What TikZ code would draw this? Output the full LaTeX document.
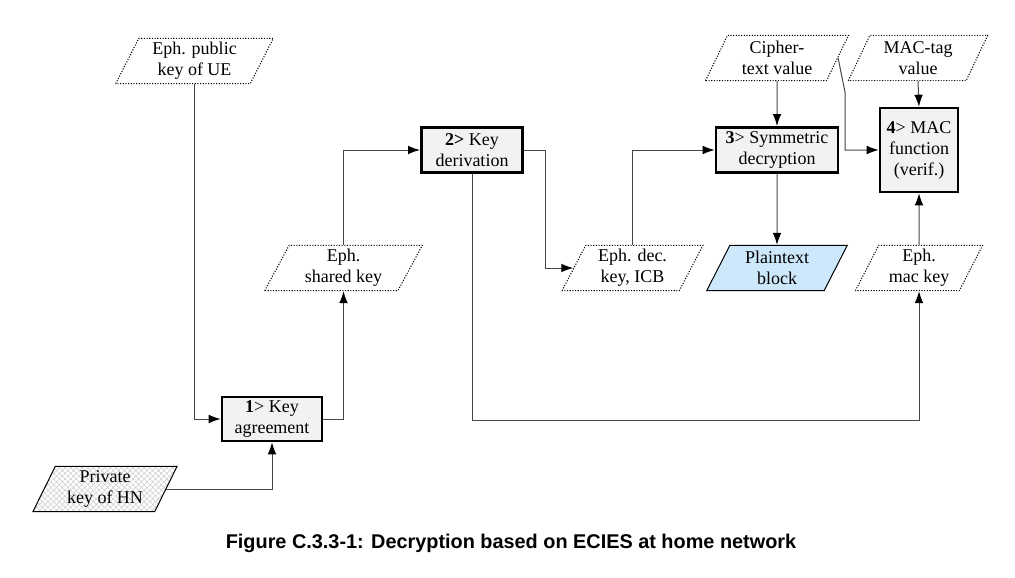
\documentclass[tikz,border=0pt]{standalone}
\usepackage{fontspec}
\setmainfont{Liberation Serif}
\newfontfamily\capfont{Liberation Sans}
\usetikzlibrary{shapes.geometric, arrows.meta, patterns.meta}
\definecolor{mylinegrey}{RGB}{70, 70, 70}
\definecolor{myboxfill}{RGB}{242, 242, 242}
\definecolor{myplainblue}{RGB}{204, 232, 250}

\begin{document}
\begin{tikzpicture}[x = 0.75pt, y = -0.75pt, > = {Latex[length = 9pt, width = 6.5pt, color = black]},
  font = \fontsize{13.5}{15.75}\selectfont,
  process/.style = {draw, line width = 2pt, fill = myboxfill, align = center, inner sep = 0pt},
  datum/.style = {trapezium, trapezium left angle = 65, trapezium right angle = 115, trapezium stretches = true, draw, line width = 0.8pt, dash pattern = on 0.8pt off 1.2pt, align = center, inner sep = 0pt, minimum height = 34pt},
  link/.style = {mylinegrey, line width = 0.75pt}]
  \useasboundingbox (0,0) rectangle (1015,578);

  % nodes
  \node [datum, minimum width = 119pt] (ue-key) at (194.5,61) {Eph. public\\key of UE};
  \node [datum, solid, line width = 0.75pt, minimum width = 109pt, pattern = {Hatch[angle = 45, distance = 3pt, line width = 0.4pt]}, pattern color = gray!40] (hn-key) at (105,489) {Private\\key of HN};
  \node [process, minimum width = 75pt, minimum height = 33pt] (key-agree) at (272,419) {\textbf{1}> Key\\agreement};
  \node [datum, minimum width = 119pt] (shared-key) at (343.5,268) {Eph.\\shared key};
  \node [process, minimum width = 76pt, minimum height = 34pt] (key-deriv) at (472,150) {\textbf{2>} Key\\derivation};
  \node [datum, minimum width = 106pt] (dec-key) at (632.5,268) {Eph. dec.\\key, ICB};
  \node [datum, minimum width = 108pt] (cipher) at (777,58) {Cipher-\\text value};
  \node [process, minimum width = 91.5pt, minimum height = 34pt] (sym-dec) at (777,150) {\textbf{3}> Symmetric\\decryption};
  \node [datum, solid, line width = 0.75pt, minimum width = 106pt, fill = myplainblue] (plain) at (777,268) {Plaintext\\block};
  \node [datum, minimum width = 105pt] (mac-tag) at (918,58) {MAC-tag\\value};
  \node [process, minimum width = 58.5pt, minimum height = 63pt] (mac-fn) at (919,150) {\textbf{4}> MAC\\function\\(verif.)};
  \node [datum, minimum width = 96pt] (mac-key) at (919,268) {Eph.\\mac key};

  \coordinate (cipher-bend) at (845,92);

  % edges
  \draw [link, ->] (ue-key.south) |- (key-agree.west);
  \draw [link, ->] (hn-key.east) -| (key-agree.south);
  \draw [link, ->] (key-agree.east) -| (shared-key.south);
  \draw [link, ->] (shared-key.north) |- (key-deriv.west);
  \draw [link, ->] (key-deriv.east) -- ++(21,0) |- (dec-key.west);
  \draw [link, ->] (key-deriv.south) -- (key-deriv.south |- 0,420) -| (mac-key.south);
  \draw [link, ->] (dec-key.north) |- (sym-dec.west);
  \draw [link, ->] (cipher.south) -- (sym-dec.north);
  \draw [link, ->] (sym-dec.south) -- (plain.north);
  \draw [link, ->] (cipher.east) -- (cipher-bend) |- (mac-fn.west);
  \draw [link, ->] (mac-tag.south) -- (mac-fn.north);
  \draw [link, ->] (mac-key.north) -- (mac-fn.south);

  % caption
  \node (caption) at (511,543) {\capfont\fontsize{14.9}{17}\selectfont\bfseries Figure C.3.3-1: Decryption based on ECIES at home network};

\end{tikzpicture}
\end{document}
